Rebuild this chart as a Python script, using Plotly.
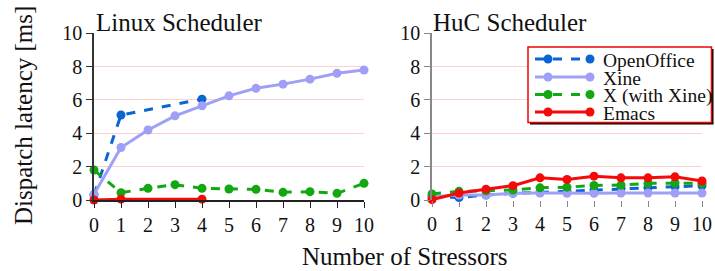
import plotly.graph_objects as go

W, H = 715, 271

stressors = list(range(11))
stressors_short = [0, 1, 4]

# Linux scheduler
linux_openoffice = [0.3, 5.1, 6.05]
linux_xine = [0.35, 3.15, 4.2, 5.05, 5.65, 6.25, 6.7, 6.95, 7.25, 7.6, 7.8]
linux_x = [1.8, 0.44, 0.7, 0.92, 0.7, 0.66, 0.64, 0.46, 0.5, 0.4, 1.0]
linux_emacs = [0.0, 0.05, 0.05]

# HuC scheduler
huc_openoffice = [0.2, 0.15, 0.3, 0.4, 0.45, 0.52, 0.6, 0.7, 0.75, 0.8, 0.85]
huc_xine = [0.2, 0.3, 0.3, 0.4, 0.42, 0.4, 0.4, 0.42, 0.42, 0.42, 0.42]
huc_x = [0.36, 0.52, 0.55, 0.6, 0.73, 0.77, 0.87, 0.9, 1.0, 1.02, 1.0]
huc_emacs = [0.02, 0.42, 0.65, 0.86, 1.33, 1.23, 1.43, 1.33, 1.33, 1.39, 1.14]

series_names = ["OpenOffice", "Xine", "X (with Xine)", "Emacs"]
colors = ["#0a64d2", "#9f9ff7", "#12a812", "#f50a0a"]
dashes = ["dash", "solid", "dash", "solid"]
y_ticks = [0, 2, 4, 6, 8, 10]

FONT = "Liberation Serif, Times New Roman, serif"
TXT = "#111"

fig = go.Figure()

linux_data = [(stressors_short, linux_openoffice), (stressors, linux_xine),
              (stressors, linux_x), (stressors_short, linux_emacs)]
huc_data = [(stressors, huc_openoffice), (stressors, huc_xine),
            (stressors, huc_x), (stressors, huc_emacs)]

for axes, data in (("1", linux_data), ("2", huc_data)):
    for i, (xs, ys) in enumerate(data):
        fig.add_trace(go.Scatter(
            x=xs, y=ys, mode="lines+markers", name=series_names[i],
            line=dict(color=colors[i], width=3, dash=dashes[i]),
            marker=dict(color=colors[i], size=9), cliponaxis=False,
            showlegend=False,
            xaxis="x" if axes == "1" else "x2",
            yaxis="y" if axes == "1" else "y2"))

grid = "#ffd0d0"
tickfont = dict(family=FONT, size=20, color=TXT)


def xax(domain, color, showline, anchor):
    return dict(domain=domain, range=[0, 10], tickvals=stressors, ticks="outside",
                ticklen=6, tickcolor=color, tickwidth=1, showline=showline,
                linecolor=color, linewidth=1.5, showgrid=False, zeroline=False,
                tickfont=tickfont, automargin=False, anchor=anchor)


def yax(color, anchor):
    return dict(domain=[71 / H, (H - 33.3) / H], range=[0, 10], tickvals=y_ticks,
                ticks="outside", ticklen=6, tickcolor=color, showline=True,
                linecolor=color, linewidth=1.5, showgrid=True, gridcolor=grid,
                gridwidth=1, zeroline=False, tickfont=tickfont, automargin=False,
                anchor=anchor)


fig.update_layout(
    width=W, height=H, autosize=False,
    margin=dict(l=0, r=0, t=0, b=0),
    paper_bgcolor="white", plot_bgcolor="white",
    font=dict(family=FONT, size=20, color=TXT),
    xaxis=xax([94 / W, 364 / W], "#222", True, "y"),
    xaxis2=xax([432 / W, 702 / W], "#888", False, "y2"),
    yaxis=yax("#333", "x"),
    yaxis2=yax("#888", "x2"),
    showlegend=False,
)


def px(x):
    return x / W


def py(y):
    return (H - y) / H


# legend box with shadow
fig.add_shape(type="rect", xref="paper", yref="paper", layer="above",
              x0=px(530), x1=px(713.5), y0=py(49), y1=py(124.5),
              fillcolor="black", line=dict(width=0))
fig.add_shape(type="rect", xref="paper", yref="paper", layer="above",
              x0=px(528), x1=px(711.5), y0=py(47), y1=py(122.5),
              fillcolor="white", line=dict(color="#ee0000", width=1.5))

row_y = [59, 77, 94.5, 112]
for i, name in enumerate(series_names):
    yy = row_y[i]
    fig.add_shape(type="line", xref="paper", yref="paper", layer="above",
                  x0=px(535), x1=px(593), y0=py(yy), y1=py(yy),
                  line=dict(color=colors[i], width=3, dash=dashes[i]))
    for cx in (548, 590):
        fig.add_shape(type="circle", xref="paper", yref="paper", layer="above",
                      x0=px(cx - 4.5), x1=px(cx + 4.5), y0=py(yy - 4.5), y1=py(yy + 4.5),
                      fillcolor=colors[i], line=dict(width=0))
    fig.add_annotation(text=name, xref="paper", yref="paper",
                       x=px(601), y=py(yy + 1), xanchor="left", yanchor="middle",
                       showarrow=False, font=dict(family=FONT, size=19.5, color=TXT))

fig.add_annotation(text="Linux Scheduler", xref="paper", yref="paper",
                   x=px(94), y=py(22), xanchor="left", yanchor="middle",
                   showarrow=False, font=dict(family=FONT, size=25, color=TXT))
fig.add_annotation(text="HuC Scheduler", xref="paper", yref="paper",
                   x=px(431), y=py(22), xanchor="left", yanchor="middle",
                   showarrow=False, font=dict(family=FONT, size=25, color=TXT))
fig.add_annotation(text="Dispatch latency [ms]", xref="paper", yref="paper",
                   x=px(23), y=py(116), xanchor="center", yanchor="middle",
                   textangle=-90, showarrow=False,
                   font=dict(family=FONT, size=25, color=TXT))
fig.add_annotation(text="Number of Stressors", xref="paper", yref="paper",
                   x=px(405), y=py(256), xanchor="center", yanchor="middle",
                   showarrow=False, font=dict(family=FONT, size=25, color=TXT))

fig.write_html("out.html", config={"displayModeBar": False},
               post_script="document.body.style.margin='0';document.body.style.overflow='hidden';")
